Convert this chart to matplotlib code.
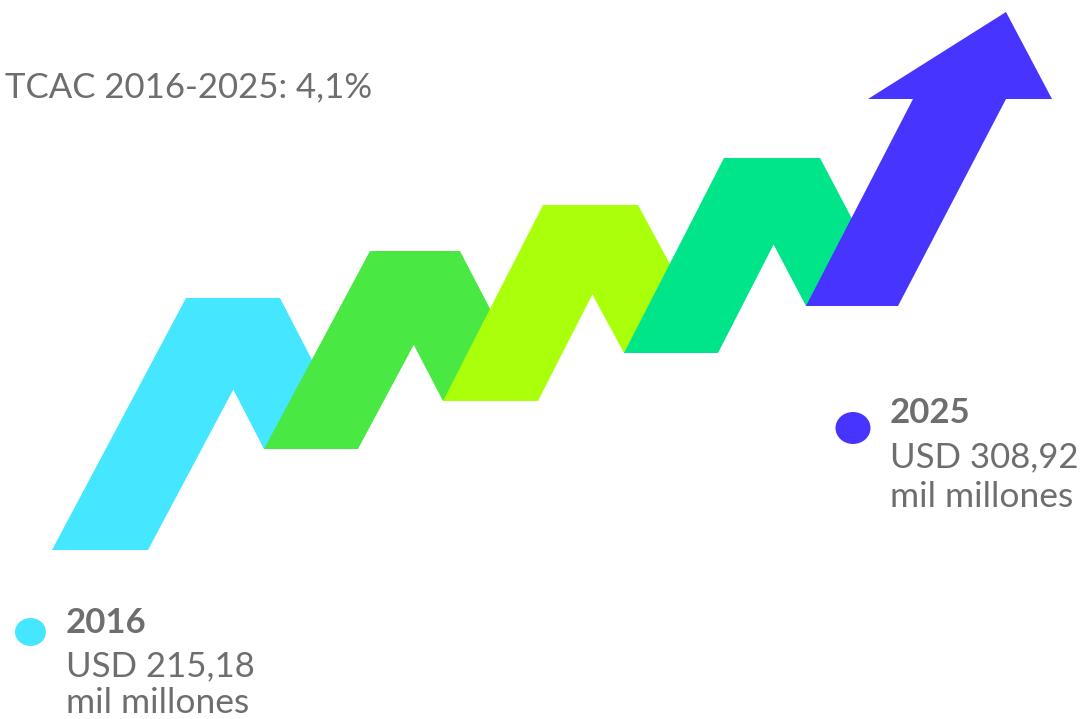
import matplotlib.pyplot as plt
from matplotlib.patches import Polygon, Ellipse

# datos
anios = [2016, 2025]
valores = [215.18, 308.92]  # USD mil millones
tcac = 4.1  # %

colores = ["#45E6FF", "#4AE843", "#AAFF0B", "#00E58A", "#4734FF"]
gris = "#6E6E6E"

# geometria del zigzag (pixeles, y hacia abajo)
bases = [(52, 550), (264, 449), (443, 401), (624, 353), (806, 306)]  # esquina inferior izq.
cimas = [(186, 298), (370, 251), (543, 205), (724, 158)]  # esquina superior izq.
ancho = [96, 94, 95, 94, 92]
tope = [94, 90, 95, 96]


def cruce(p, d, q, e):
    # interseccion de p + t*d con q + s*e
    det = d[0] * (-e[1]) - d[1] * (-e[0])
    t = ((q[0] - p[0]) * (-e[1]) - (q[1] - p[1]) * (-e[0])) / det
    return (p[0] + t * d[0], p[1] + t * d[1])


fig = plt.figure(figsize=(10.86, 7.19), dpi=100)
ax = fig.add_axes([0, 0, 1, 1])
ax.set_xlim(0, 1086)
ax.set_ylim(719, 0)
ax.axis("off")

for i in range(4):
    b, yb = bases[i]
    tl, yt = cimas[i]
    tr = tl + tope[i]
    nb, nyb = bases[i + 1]
    w = ancho[i]
    d_sube = (tl - b, yt - yb)
    d_baja = (nb + ancho[i + 1] - tr, nyb - yt)
    muesca = cruce((b + w, yb), d_sube, (nb, nyb), d_baja)
    pts = [(b, yb), (tl, yt), (tr, yt), (nb + ancho[i + 1], nyb), (nb, nyb), muesca, (b + w, yb)]
    ax.add_patch(Polygon(pts, closed=True, facecolor=colores[i], edgecolor="none", zorder=i + 1))

# flecha final
b, yb = bases[4]
flecha = [(b, yb), (913, 99), (868, 99), (1006, 12), (1052, 99), (1006, 99), (b + ancho[4], yb)]
ax.add_patch(Polygon(flecha, closed=True, facecolor=colores[4], edgecolor="none", zorder=5))

fuente = "Lato"


def fmt(v):
    return f"{v:.2f}".replace(".", ",")


ax.text(5, 97, f"TCAC {anios[0]}-{anios[1]}: {tcac:.1f}%".replace(".", ","),
        fontsize=25, color=gris, family=fuente, va="baseline", ha="left")

# etiquetas 2016
ax.add_patch(Ellipse((30.5, 632), 31, 28, facecolor=colores[0], edgecolor="none"))
ax.text(66, 633, str(anios[0]), fontsize=25, fontweight="bold", color=gris, family=fuente, va="baseline")
ax.text(66, 676, f"USD {fmt(valores[0])}", fontsize=25, color=gris, family=fuente, va="baseline")
ax.text(66, 713, "mil millones", fontsize=25.5, color=gris, family=fuente, va="baseline")

# etiquetas 2025
ax.add_patch(Ellipse((853, 428), 35, 32, facecolor=colores[4], edgecolor="none"))
ax.text(890, 423, str(anios[1]), fontsize=25, fontweight="bold", color=gris, family=fuente, va="baseline")
ax.text(890, 467, f"USD {fmt(valores[1])}", fontsize=25, color=gris, family=fuente, va="baseline")
ax.text(890, 507, "mil millones", fontsize=25.5, color=gris, family=fuente, va="baseline")

fig.savefig("out.png", dpi=100)
